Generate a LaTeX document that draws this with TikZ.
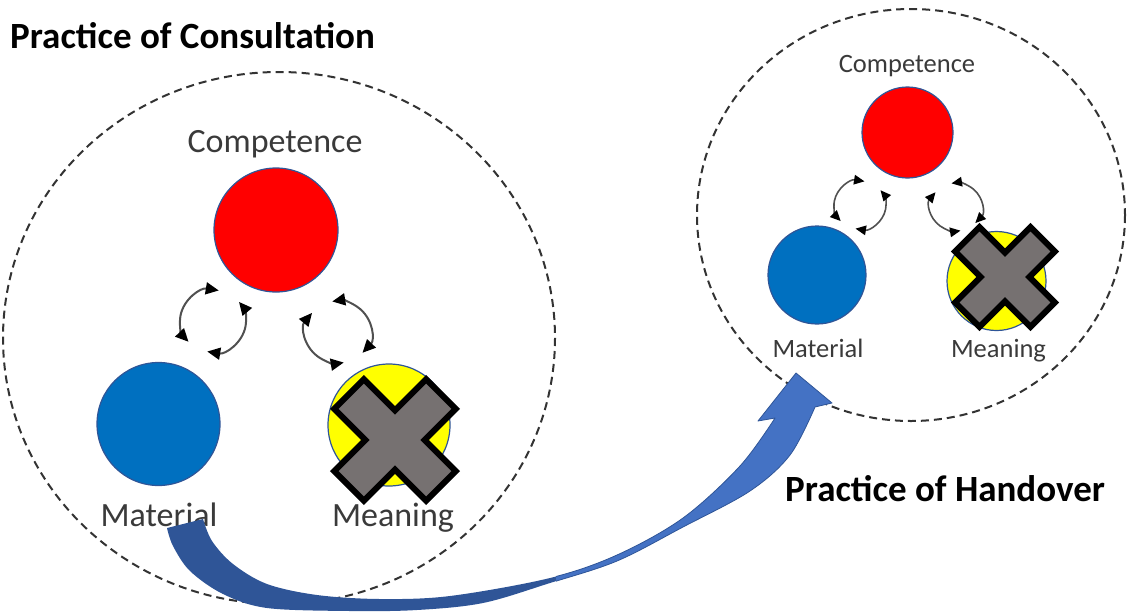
\documentclass[tikz,border=0pt]{standalone}
\usepackage{fontspec}
\setmainfont{Carlito}
\usetikzlibrary{arrows.meta}
\definecolor{dashcol}{HTML}{333333}
\definecolor{ringcol}{HTML}{2F5597}
\definecolor{balblue}{HTML}{0070C0}
\definecolor{balred}{HTML}{FF0000}
\definecolor{balyellow}{HTML}{FFFF00}
\definecolor{xgray}{HTML}{767171}
\definecolor{loopgray}{HTML}{505050}
\definecolor{lblcol}{HTML}{3A3A3A}
\definecolor{banddark}{HTML}{2F5597}
\definecolor{bandlight}{HTML}{4472C4}
\tikzset{
  dashring/.style={draw=dashcol, line width=2pt, dash pattern=on 8pt off 5pt},
  ball/.style={circle, draw=ringcol, line width=1.2pt, inner sep=0pt},
  biglbl/.style={font=\fontsize{34}{38}\selectfont, text=lblcol, inner sep=0pt, anchor=base},
  smalllbl/.style={font=\fontsize{26.5}{30}\selectfont, text=lblcol, inner sep=0pt, anchor=base},
  title/.style={font=\bfseries\fontsize{37}{42}\selectfont, text=black, inner sep=0pt, anchor=base west},
  bigloop/.style={draw=loopgray, line width=2pt,
    {Triangle[length=13pt,width=12pt,color=black]}-{Triangle[length=13pt,width=12pt,color=black]}},
  smallloop/.style={draw=loopgray, line width=1.6pt,
    {Triangle[length=10.5pt,width=9.5pt,color=black]}-{Triangle[length=10.5pt,width=9.5pt,color=black]}},
  xmark/.pic={
    \draw[fill=xgray, draw=black, line width=6pt, line join=miter, rotate=45]
      (21,65)--(-21,65)--(-21,21)--(-65,21)--(-65,-21)--(-21,-21)--(-21,-65)
      --(21,-65)--(21,-21)--(65,-21)--(65,21)--(21,21)--cycle;
  }
}
\begin{document}
\begin{tikzpicture}[x=1pt, y=-1pt]
\useasboundingbox (0,0) rectangle (1129,611);

% dashed practice rings
\draw[dashring] (279,338) ellipse [x radius=276, y radius=266];
\draw[dashring] (911,215) ellipse [x radius=214, y radius=206];

% titles
\node[title] (tcons) at (10,48) {Practice of Consultation};
\node[title] (thand) at (785,501) {Practice of Handover};

% left practice
\node[biglbl] (compL) at (275,152) {Competence};
\node[ball, fill=balred, minimum size=124pt] (redL) at (276,230) {};
\node[ball, fill=balblue, minimum size=123pt] (blueL) at (158.5,424) {};
\node[ball, fill=balyellow, minimum size=122pt] (yelL) at (389,425) {};
\pic at (395,440) {xmark};
\node[biglbl] (matL) at (159,526) {Material};
\node[biglbl] (meanL) at (393,526) {Meaning};

\coordinate (loopLa) at (213,321);
\coordinate (loopLb) at (338,332);
\draw[bigloop] ([shift={(-80:33 and 31)}]loopLa) arc[start angle=-80, end angle=-222, x radius=33, y radius=31];
\draw[bigloop] ([shift={(-260:33 and 31)}]loopLa) arc[start angle=-260, end angle=-398, x radius=33, y radius=31];
\draw[bigloop] ([shift={(42:33 and 31)}]loopLb) arc[start angle=42, end angle=-100, x radius=33, y radius=31];
\draw[bigloop] ([shift={(-142:33 and 31)}]loopLb) arc[start angle=-142, end angle=-280, x radius=33, y radius=31];

% right practice
\node[smalllbl] (compR) at (907,72) {Competence};
\node[ball, fill=balred, minimum size=91pt] (redR) at (907.5,132.5) {};
\node[ball, fill=balblue, minimum size=98pt] (blueR) at (817,275) {};
\node[ball, fill=balyellow, minimum size=99pt] (yelR) at (996.5,281) {};
\pic[scale=0.82] at (1005,277) {xmark};
\node[smalllbl] (matR) at (818,357) {Material};
\node[smalllbl] (meanR) at (998.5,357) {Meaning};

\coordinate (loopRa) at (860,205);
\coordinate (loopRb) at (956,207);
\draw[smallloop] ([shift={(-80:26 and 24)}]loopRa) arc[start angle=-80, end angle=-222, x radius=26, y radius=24];
\draw[smallloop] ([shift={(-260:26 and 24)}]loopRa) arc[start angle=-260, end angle=-398, x radius=26, y radius=24];
\draw[smallloop] ([shift={(42:26 and 24)}]loopRb) arc[start angle=42, end angle=-100, x radius=26, y radius=24];
\draw[smallloop] ([shift={(-142:26 and 24)}]loopRb) arc[start angle=-142, end angle=-280, x radius=26, y radius=24];

% handover arrow
\path[save path=\bandp] (167,528) -- (203,519)
  -- plot[smooth, tension=0.55] coordinates {(203,519) (212,541) (233,564) (267,584) (317,595) (380,599) (450,596) (550,578) (617,555) (683,518) (740,466) (775,418)}
  -- (758,421) -- (796,373) -- (832,403) -- (815,407)
  -- plot[smooth, tension=0.55] coordinates {(815,407) (790,455) (750,491) (683,527) (617,561) (550,583) (483,603) (417,610) (350,611) (267,608) (223,594) (190,571) (173,546) (167,528)}
  -- cycle;
\begin{scope}
  \clip (0,0) rectangle (556,611);
  \fill[banddark, use path=\bandp];
\end{scope}
\begin{scope}
  \clip (556,0) rectangle (1129,611);
  \filldraw[fill=bandlight, draw=banddark, line width=0.8pt, line join=round, use path=\bandp];
\end{scope}
\end{tikzpicture}
\end{document}
